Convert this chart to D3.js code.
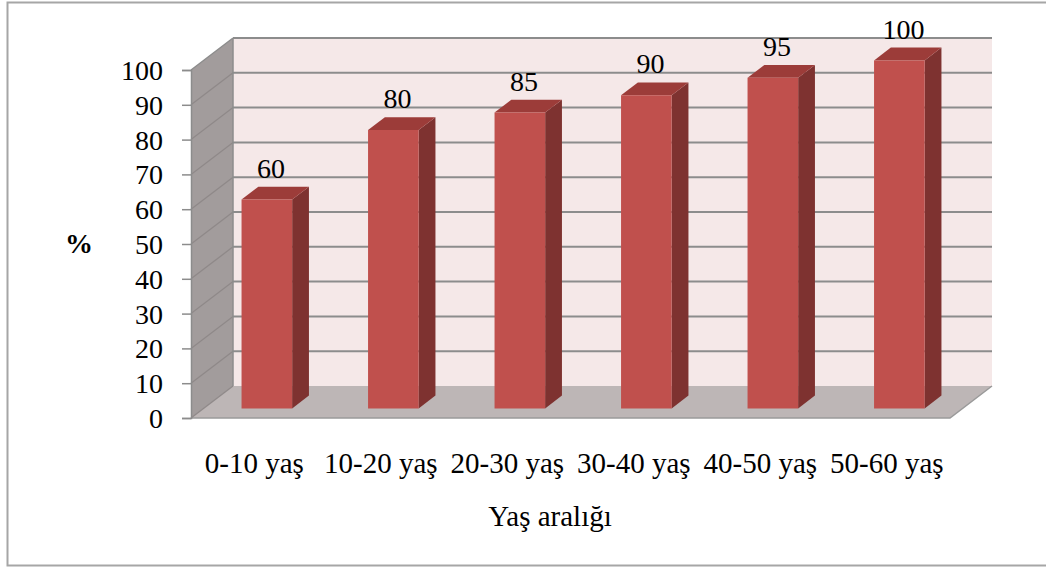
<!DOCTYPE html>
<html><head><meta charset="utf-8">
<script src="https://cdn.jsdelivr.net/npm/d3@7"></script>
<style>
html,body{margin:0;padding:0;background:#fff;}
svg{display:block;}
text{font-family:"Liberation Serif","Times New Roman",serif;fill:#000;}
</style></head>
<body>
<script>
const categories = ["0-10 yaş","10-20 yaş","20-30 yaş","30-40 yaş","40-50 yaş","50-60 yaş"];
const values = [60, 80, 85, 90, 95, 100];
const yTicks = [0,10,20,30,40,50,60,70,80,90,100];
const xTitle = "Yaş aralığı";
const yTitle = "%";

const W = 1046, H = 567;
const FS = 28;
const svg = d3.select("body").append("svg").attr("width", W).attr("height", H);

// chart border
svg.append("rect").attr("x",7.5).attr("y",2.5).attr("width",1045).attr("height",563)
  .attr("fill","none").attr("stroke","#a6a6a6").attr("stroke-width",2);

const left = 191, right = 950, base = 418;
const DX = 42, DY = -32;
const x = d3.scaleBand().domain(categories).range([left, right]).padding(0);
const y = d3.scaleLinear().domain([0,100]).range([base, base - 348]);
const P = (px, v, depth) => [px + depth*DX, y(v) + depth*DY];
const line = d3.line();

// back wall
const bw = [P(left,0,1), P(right,0,1), P(right,100,1), P(left,100,1)];
svg.append("path").attr("d", line(bw)+"Z").attr("fill","#f5e8e8");
// left wall
const lw = [P(left,0,0), P(left,0,1), P(left,100,1), P(left,100,0)];
svg.append("path").attr("d", line(lw)+"Z").attr("fill","#a29c9c");
// floor
const fl = [P(left,0,0), P(right,0,0), P(right,0,1), P(left,0,1)];
svg.append("path").attr("d", line(fl)+"Z").attr("fill","#bdb6b6");
svg.append("path").attr("d", line([P(left,0,0),P(right,0,0),P(right,0,1)]))
  .attr("fill","none").attr("stroke","#9a9a9a").attr("stroke-width",1.5);

// gridlines
yTicks.forEach(v => {
  if (v > 0) {
    svg.append("path").attr("d", line([P(left,v,1), P(right,v,1)]))
      .attr("stroke","#8c8c8c").attr("stroke-width",2).attr("fill","none");
  }
  svg.append("path").attr("d", line([P(left,v,0), P(left,v,1)]))
    .attr("stroke", v===100 ? "#8c8c8c" : "#8f8989").attr("stroke-width",1.3).attr("fill","none");
});
svg.append("path").attr("d", line([P(left,0,1), P(left,100,1)]))
  .attr("stroke","#8c8c8c").attr("stroke-width",1.5).attr("fill","none");

// y axis
const yAxis = d3.axisLeft(y).tickValues(yTicks).tickSize(9).tickPadding(19);
const ga = svg.append("g").attr("transform",`translate(${left},0)`).call(yAxis);
ga.select(".domain").attr("stroke","#8c8c8c").attr("stroke-width",1.5);
ga.selectAll(".tick line").attr("stroke","#8c8c8c").attr("stroke-width",1.5);
ga.selectAll(".tick text").attr("font-size",FS).attr("fill","#000")
  .style("font-family","'Liberation Serif',serif").attr("dy","0.34em");

// bars
const d0 = 0.3, d1 = 0.7;
const bw2 = x.bandwidth()*0.4;
categories.forEach((c,i) => {
  const v = values[i];
  const cx = x(c) + x.bandwidth()/2;
  const xl = cx - bw2/2, xr = cx + bw2/2;
  const front = [P(xl,0,d0), P(xr,0,d0), P(xr,v,d0), P(xl,v,d0)];
  const side = [P(xr,0,d0), P(xr,0,d1), P(xr,v,d1), P(xr,v,d0)];
  const top = [P(xl,v,d0), P(xr,v,d0), P(xr,v,d1), P(xl,v,d1)];
  svg.append("path").attr("d", line(side)+"Z").attr("fill","#7e3230");
  svg.append("path").attr("d", line(top)+"Z").attr("fill","#9c3c39");
  svg.append("path").attr("d", line(front)+"Z").attr("fill","#c0504d");
  const lp = P(cx, v, 0.4);
  svg.append("text").attr("x", lp[0]).attr("y", y(v) + d1*DY - 9)
    .attr("text-anchor","middle").attr("font-size",FS).text(v);
});

// x axis labels
const xAxis = d3.axisBottom(x).tickSize(0).tickPadding(0);
const gx = svg.append("g").attr("transform",`translate(0,${base})`).call(xAxis);
gx.select(".domain").remove();
gx.selectAll(".tick text").attr("font-size",29).attr("fill","#000")
  .style("font-family","'Liberation Serif',serif").attr("dy",null).attr("y",55);

svg.append("text").attr("x",550).attr("y",526).attr("text-anchor","middle")
  .attr("font-size",29).text(xTitle);
svg.append("text").attr("x",79).attr("y",253).attr("text-anchor","middle")
  .attr("font-size",FS).attr("font-weight","bold").text(yTitle);
</script>
</body></html>
